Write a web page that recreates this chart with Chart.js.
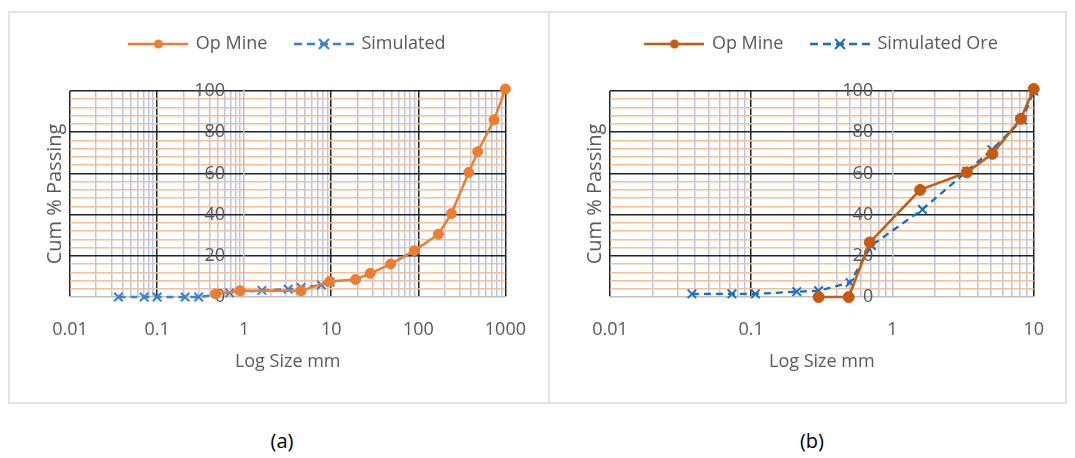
<!DOCTYPE html>
<html lang="en">
<head>
	<meta charset="UTF-8">
	<title>Cum % Passing vs Log Size</title>
	<script src="https://cdn.jsdelivr.net/npm/chart.js@4.4.1/dist/chart.umd.min.js"></script>
	<style>
		body,html{padding:0;margin:0;background:#fff;}
		body{width:1075px;height:458px;position:relative;overflow:hidden;font-family:'Open Sans',sans-serif;}
		.frame{position:absolute;left:8px;top:11px;width:1059px;height:393px;box-sizing:border-box;border:2px solid #e3e3e3;}
		.divider{position:absolute;left:548px;top:11px;width:2px;height:393px;background:#e3e3e3;}
		#chartA{position:absolute;left:10px;top:13px;}
		#chartB{position:absolute;left:551px;top:13px;}
		.caption{position:absolute;top:427px;width:60px;text-align:center;font-size:20px;line-height:27px;color:#000;}
	</style>
	<script>
		// (a) Op Mine vs Simulated
		var opSizeA  = [0.47, 0.9, 4.5, 9.6, 19, 28, 48, 90, 170, 240, 380, 480, 740, 1000];
		var opPassA  = [1.5, 3, 3, 7.5, 8.5, 11.5, 16, 22.5, 30.5, 40.5, 60.5, 70.5, 86, 101];
		var simSizeA = [0.036, 0.071, 0.1, 0.21, 0.3, 0.68, 1.6, 3.2, 4.5, 7.7, 9.7];
		var simPassA = [0, 0, 0, 0, 0, 2, 3.2, 3.8, 4.6, 5.8, 7.2];
		var decadesA = [0.01, 0.1, 1, 10, 100, 1000];

		// (b) Op Mine vs Simulated Ore
		var opSizeB  = [0.3, 0.49, 0.69, 1.57, 3.36, 5.1, 8.1, 10];
		var opPassB  = [0, 0, 26.5, 52, 60.5, 69.5, 86.5, 101];
		var simSizeB = [0.038, 0.073, 0.107, 0.21, 0.3, 0.5, 0.71, 1.63, 3.36, 5.06, 8.3, 10];
		var simPassB = [1.5, 1.5, 1.5, 2.6, 3, 7, 25, 42.5, 61, 71.5, 86, 100];
		var decadesB = [0.01, 0.1, 1, 10];

		var minorSteps = [2, 3, 4, 5, 6, 7, 8, 9];
		var yMajorStep = 20;
		var yMinorStep = 4;

		var grey = '#595959';
		var font18 = {family:"'Open Sans', sans-serif", size:18};
		var font20 = {family:"'Open Sans', sans-serif", size:20};

		function legendImage(color, dashed, marker){
			var c = document.createElement('canvas');
			c.width = 60; c.height = 16;
			var g = c.getContext('2d');
			g.strokeStyle = color;
			g.lineWidth = 2.5;
			if(dashed) g.setLineDash([8,5]);
			g.beginPath(); g.moveTo(0,8); g.lineTo(60,8); g.stroke();
			g.setLineDash([]);
			if(marker == 'circle'){
				g.fillStyle = color;
				g.beginPath(); g.arc(30,8,4.5,0,Math.PI*2); g.fill();
			}else{
				g.lineWidth = 2;
				g.beginPath();
				g.moveTo(25,3); g.lineTo(35,13);
				g.moveTo(35,3); g.lineTo(25,13);
				g.stroke();
			}
			return c;
		}

		function points(xs, ys){
			return xs.map(function(x,i){ return {x:x, y:ys[i]}; });
		}

		function makeChart(id, s){
			var xTicks = [];
			s.decades.forEach(function(d,i){
				xTicks.push({value:d, major:true});
				if(i < s.decades.length-1){
					minorSteps.forEach(function(m){ xTicks.push({value:m*d, major:false}); });
				}
			});
			var imgs = [legendImage(s.opColor,false,'circle'), legendImage(s.simColor,true,'cross')];
			return new Chart(document.getElementById(id).getContext('2d'),{
				type:'line',
				data:{
					datasets:[{
						label:'Op Mine',
						data:points(s.opSize, s.opPass),
						xAxisID:'x', yAxisID:'y',
						borderColor:s.opColor,
						backgroundColor:s.opColor,
						borderWidth:2.5,
						pointStyle:'circle',
						pointRadius:s.opRadius,
						pointBorderWidth:1,
						tension:0,
						clip:false
					},{
						label:s.simLabel,
						data:points(s.simSize, s.simPass),
						xAxisID:'x', yAxisID:'y',
						borderColor:s.simColor,
						backgroundColor:s.simColor,
						borderWidth:2.3,
						borderDash:[7,5],
						pointStyle:'crossRot',
						pointRadius:6,
						pointBorderWidth:2,
						tension:0,
						clip:false
					}]
				},
				options:{
					responsive:false,
					animation:false,
					events:[],
					layout:{padding:{left:s.padLeft, right:s.padRight, top:-6, bottom:28.8}},
					plugins:{
						tooltip:{enabled:false},
						legend:{
							position:'top',
							fullSize:false,
							labels:{
								usePointStyle:true,
								pointStyleWidth:57,
								padding:28,
								color:grey,
								font:font18,
								generateLabels:function(chart){
									return chart.data.datasets.map(function(ds,i){
										return {text:ds.label, pointStyle:imgs[i], datasetIndex:i, fontColor:grey, lineWidth:0, hidden:false};
									});
								}
							}
						}
					},
					scales:{
						x:{
							type:'logarithmic',
							position:'bottom',
							min:s.decades[0],
							max:s.decades[s.decades.length-1],
							afterBuildTicks:function(axis){ axis.ticks = xTicks.map(function(t){ return {value:t.value, major:t.major}; }); },
							ticks:{
								autoSkip:false, maxRotation:0, padding:22, color:grey, font:font18,
								callback:function(v){ return s.decades.indexOf(v) >= 0 ? String(v) : ''; }
							},
							grid:{
								drawTicks:false,
								lineWidth:1.5,
								color:function(ctx){
									if(!ctx.tick) return 'transparent';
									var v = ctx.tick.value;
									if(s.decades.indexOf(v) >= 0) return v == 1 ? 'transparent' : '#222';
									return '#b4c7e7';
								}
							},
							border:{color:'#bfbfbf', width:1.5},
							title:{display:true, text:'Log Size mm', color:grey, font:font18, padding:{top:-12, bottom:0}}
						},
						// value axis crossing at x = 1: grid + axis line
						y:{
							type:'linear',
							position:{x:1},
							min:0, max:100,
							ticks:{stepSize:yMinorStep, maxTicksLimit:40, autoSkip:false, display:false},
							grid:{
								drawTicks:false,
								lineWidth:1.5,
								color:function(ctx){
									if(!ctx.tick) return 'transparent';
									var v = ctx.tick.value;
									if(v % yMajorStep == 0) return v == 0 ? 'transparent' : '#222';
									return '#f6bf98';
								}
							},
							border:{color:'#bfbfbf', width:1.5}
						},
						// its labels, set a little left of the crossing line
						yl:{
							type:'linear',
							position:{x:s.yLabelAt},
							min:0, max:100,
							ticks:{stepSize:yMajorStep, padding:0, color:grey, font:font18},
							grid:{display:false, drawTicks:false},
							border:{display:false}
						},
						yt:{
							type:'linear', position:'left',
							grid:{display:false, drawTicks:false},
							border:{display:false},
							ticks:{display:false},
							title:{display:true, text:'Cum % Passing', color:grey, font:font20, padding:{top:0, bottom:3}}
						},
						sp:{
							type:'linear', position:'top',
							grid:{display:false, drawTicks:false},
							border:{display:false},
							ticks:{display:false},
							title:{display:true, text:' ', font:{size:10, lineHeight:1}, padding:{top:18, bottom:0}}
						}
					}
				}
			});
		}

		window.addEventListener('load', function(){
			makeChart('chartA',{
				opSize:opSizeA, opPass:opPassA, simSize:simSizeA, simPass:simPassA,
				decades:decadesA, simLabel:'Simulated',
				opColor:'#ed7d31', simColor:'#3a7fd0', opRadius:5,
				yLabelAt:0.605,
				padLeft:33, padRight:42
			});
			makeChart('chartB',{
				opSize:opSizeB, opPass:opPassB, simSize:simSizeB, simPass:simPassB,
				decades:decadesB, simLabel:'Simulated Ore',
				opColor:'#c55a11', simColor:'#1a6fc4', opRadius:5.5,
				yLabelAt:0.73,
				padLeft:32, padRight:18
			});
		});
	</script>
</head>
<body>
	<div class="frame"></div>
	<div class="divider"></div>
	<canvas id="chartA" width="538" height="388"></canvas>
	<canvas id="chartB" width="515" height="388"></canvas>
	<div class="caption" style="left:252px;">(a)</div>
	<div class="caption" style="left:782px;">(b)</div>
</body>
</html>
